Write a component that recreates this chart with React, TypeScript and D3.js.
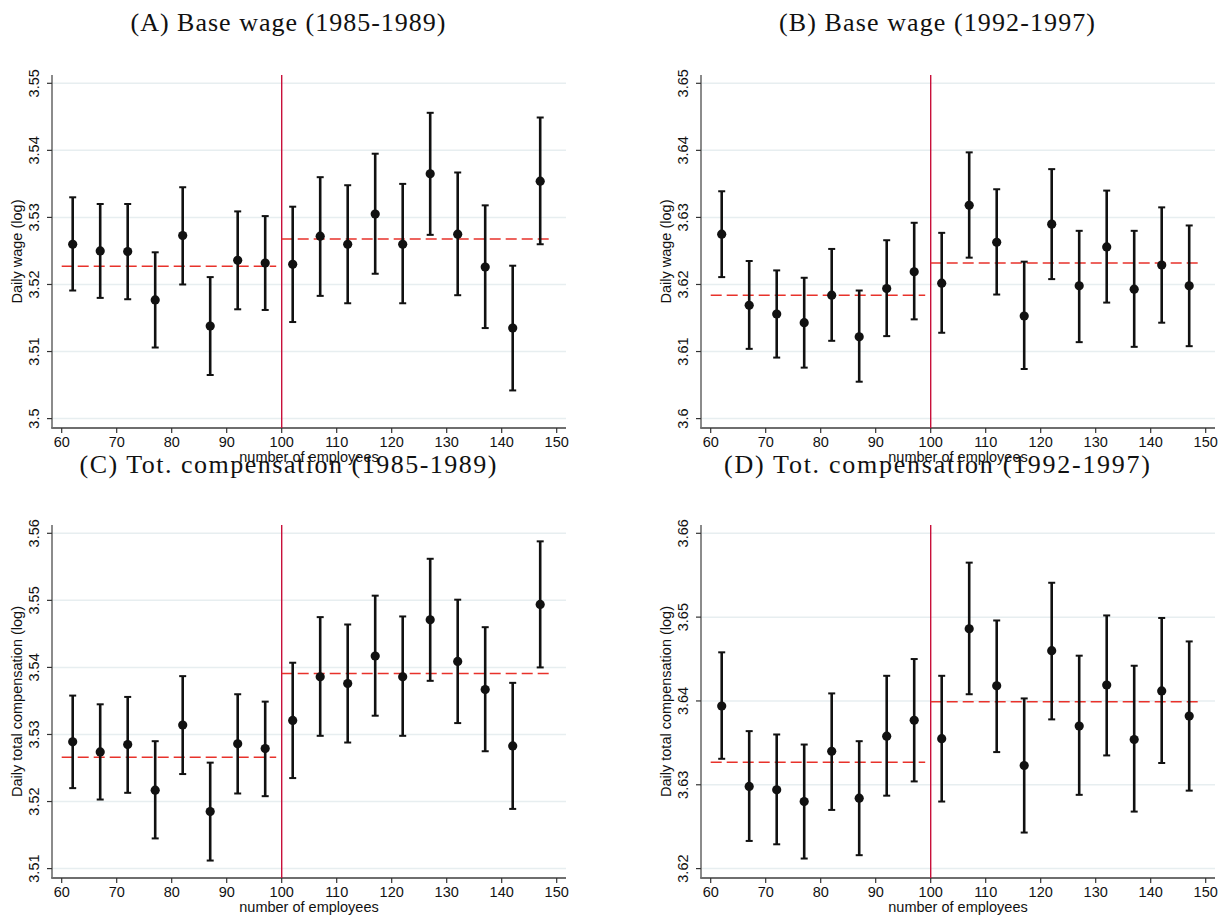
import React from "react";
import * as d3 from "d3";

// ---------- data ----------
const bins = [62, 67, 72, 77, 82, 87, 92, 97, 102, 107, 112, 117, 122, 127, 132, 137, 142, 147];
const xTicks = [60, 70, 80, 90, 100, 110, 120, 130, 140, 150];
const cutoff = 100;
const fitLeftRange = [60, 99];
const fitRightRange = [100, 149];

// Panel A: Base wage (1985-1989)
const meanA = [3.5260, 3.5250, 3.5249, 3.5177, 3.5273, 3.5138, 3.5236, 3.5232, 3.5230, 3.5272, 3.5260, 3.5305, 3.5260, 3.5365, 3.5275, 3.5226, 3.5135, 3.5354];
const hiA = [3.5330, 3.5320, 3.5320, 3.5248, 3.5345, 3.5211, 3.5309, 3.5302, 3.5316, 3.5360, 3.5348, 3.5395, 3.5350, 3.5456, 3.5367, 3.5318, 3.5228, 3.5449];
const loA = [3.5191, 3.5180, 3.5178, 3.5106, 3.5200, 3.5065, 3.5163, 3.5162, 3.5144, 3.5183, 3.5172, 3.5216, 3.5172, 3.5274, 3.5184, 3.5135, 3.5042, 3.5260];
const fitA = [3.5227, 3.5268];
const yTicksA = [3.5, 3.51, 3.52, 3.53, 3.54, 3.55];

// Panel B: Base wage (1992-1997)
const meanB = [3.6275, 3.6169, 3.6156, 3.6143, 3.6184, 3.6122, 3.6194, 3.6219, 3.6202, 3.6318, 3.6263, 3.6153, 3.6290, 3.6198, 3.6256, 3.6193, 3.6229, 3.6198];
const hiB = [3.6339, 3.6235, 3.6221, 3.6210, 3.6253, 3.6191, 3.6266, 3.6292, 3.6277, 3.6397, 3.6342, 3.6234, 3.6372, 3.6280, 3.6340, 3.6280, 3.6315, 3.6288];
const loB = [3.6211, 3.6104, 3.6091, 3.6076, 3.6116, 3.6055, 3.6123, 3.6148, 3.6128, 3.6240, 3.6185, 3.6074, 3.6208, 3.6114, 3.6173, 3.6107, 3.6143, 3.6108];
const fitB = [3.6184, 3.6232];
const yTicksB = [3.6, 3.61, 3.62, 3.63, 3.64, 3.65];

// Panel C: Tot. compensation (1985-1989)
const meanC = [3.5289, 3.5274, 3.5285, 3.5217, 3.5314, 3.5185, 3.5286, 3.5279, 3.5321, 3.5386, 3.5376, 3.5417, 3.5386, 3.5471, 3.5409, 3.5367, 3.5283, 3.5494];
const hiC = [3.5358, 3.5345, 3.5356, 3.5290, 3.5387, 3.5258, 3.5360, 3.5349, 3.5407, 3.5475, 3.5464, 3.5507, 3.5476, 3.5562, 3.5501, 3.5460, 3.5377, 3.5588];
const loC = [3.5220, 3.5203, 3.5213, 3.5145, 3.5241, 3.5112, 3.5212, 3.5208, 3.5235, 3.5298, 3.5288, 3.5328, 3.5298, 3.5380, 3.5317, 3.5275, 3.5189, 3.5400];
const fitC = [3.5266, 3.5391];
const yTicksC = [3.51, 3.52, 3.53, 3.54, 3.55, 3.56];

// Panel D: Tot. compensation (1992-1997)
const meanD = [3.6394, 3.6298, 3.6294, 3.6280, 3.6340, 3.6284, 3.6358, 3.6377, 3.6355, 3.6486, 3.6418, 3.6323, 3.6460, 3.6370, 3.6419, 3.6354, 3.6412, 3.6382];
const hiD = [3.6458, 3.6364, 3.6360, 3.6348, 3.6409, 3.6352, 3.6430, 3.6450, 3.6430, 3.6565, 3.6496, 3.6403, 3.6541, 3.6454, 3.6502, 3.6442, 3.6499, 3.6471];
const loD = [3.6331, 3.6233, 3.6229, 3.6212, 3.6270, 3.6216, 3.6287, 3.6304, 3.6280, 3.6408, 3.6339, 3.6243, 3.6378, 3.6288, 3.6335, 3.6268, 3.6326, 3.6293];
const fitD = [3.6327, 3.6399];
const yTicksD = [3.62, 3.63, 3.64, 3.65, 3.66];

const titles = [
  "(A) Base wage (1985-1989)",
  "(B) Base wage (1992-1997)",
  "(C) Tot. compensation (1985-1989)",
  "(D) Tot. compensation (1992-1997)",
];
const yLabels = ["Daily wage (log)", "Daily wage (log)", "Daily total compensation (log)", "Daily total compensation (log)"];
const xLabel = "number of employees";

// ---------- layout ----------
const W = 1220;
const H = 916;
const PLOT_W = 514;
const PLOT_H = 353;
const SANS = "'Liberation Sans', Arial, Helvetica, sans-serif";
const SERIF = "'Liberation Serif', 'Times New Roman', serif";

type PanelProps = {
  left: number;
  top: number;
  title: string;
  titleLen: number;
  titleOffset: number;
  yLabel: string;
  mean: number[];
  lo: number[];
  hi: number[];
  fit: number[];
  yTicks: number[];
};

function Panel({ left, top, title, titleLen, titleOffset, yLabel, mean, lo, hi, fit, yTicks }: PanelProps) {
  const right = left + PLOT_W;
  const bottom = top + PLOT_H;
  const x = d3.scaleLinear().domain([60, 150]).range([left + 9.7, left + 504.7]);
  const yMin = d3.min(yTicks) as number;
  const yMax = d3.max(yTicks) as number;
  const y = d3.scaleLinear().domain([yMin, yMax]).range([bottom - 9.4, top + 8.3]);
  const fmt = (v: number) => String(+v.toFixed(2));
  const line = d3.line<[number, number]>().x((d) => x(d[0])).y((d) => y(d[1]));
  const leftFit: [number, number][] = fitLeftRange.map((v) => [v, fit[0]]);
  const rightFit: [number, number][] = fitRightRange.map((v) => [v, fit[1]]);
  const red = "#e8322b";

  return (
    <g>
      {/* gridlines */}
      {yTicks.map((t) => (
        <line key={"g" + t} x1={left} x2={right} y1={y(t)} y2={y(t)} stroke="#e7eef0" strokeWidth={1.5} />
      ))}
      {/* axes */}
      <line x1={left} x2={left} y1={top} y2={bottom} stroke="#6e6e6e" strokeWidth={1.6} />
      <line x1={left - 0.8} x2={right} y1={bottom} y2={bottom} stroke="#6e6e6e" strokeWidth={2} />
      {yTicks.map((t) => (
        <g key={"yt" + t}>
          <line x1={left - 5} x2={left} y1={y(t)} y2={y(t)} stroke="#333" strokeWidth={1.2} />
          <text
            transform={`translate(${left - 13.5},${y(t)}) rotate(-90)`}
            textAnchor="middle"
            fontFamily={SANS}
            fontSize={14.5}
            fill="#111"
          >
            {fmt(t)}
          </text>
        </g>
      ))}
      {xTicks.map((t) => (
        <g key={"xt" + t}>
          <line x1={x(t)} x2={x(t)} y1={bottom} y2={bottom + 5} stroke="#333" strokeWidth={1.2} />
          <text x={x(t)} y={bottom + 19} textAnchor="middle" fontFamily={SANS} fontSize={14.5} fill="#111">
            {t}
          </text>
        </g>
      ))}
      <text x={(left + right) / 2} y={bottom + 33.5} textAnchor="middle" fontFamily={SANS} fontSize={14.5} fill="#111">
        {xLabel}
      </text>
      <text
        transform={`translate(${left - 30.5},${(top + bottom) / 2}) rotate(-90)`}
        textAnchor="middle"
        fontFamily={SANS}
        fontSize={14.5}
        fill="#111"
      >
        {yLabel}
      </text>
      {/* cutoff line */}
      <line x1={x(cutoff)} x2={x(cutoff)} y1={top} y2={bottom} stroke="#c8103a" strokeWidth={1.4} />
      {/* fitted lines */}
      <path d={line(leftFit) || ""} fill="none" stroke={red} strokeWidth={1.5} strokeDasharray="11,5" />
      <path d={line(rightFit) || ""} fill="none" stroke={red} strokeWidth={1.5} strokeDasharray="11,5" />
      {/* error bars */}
      {bins.map((b, i) => (
        <g key={"e" + b}>
          <line x1={x(b)} x2={x(b)} y1={y(lo[i])} y2={y(hi[i])} stroke="#111" strokeWidth={2.6} />
          <line x1={x(b) - 3.5} x2={x(b) + 3.5} y1={y(lo[i])} y2={y(lo[i])} stroke="#111" strokeWidth={2} />
          <line x1={x(b) - 3.5} x2={x(b) + 3.5} y1={y(hi[i])} y2={y(hi[i])} stroke="#111" strokeWidth={2} />
          <circle cx={x(b)} cy={y(mean[i])} r={4.6} fill="#111" />
        </g>
      ))}
      {/* title */}
      <text
        x={left + 236}
        y={top - titleOffset}
        textAnchor="middle"
        fontFamily={SERIF}
        fontSize={26}
        textLength={titleLen}
        lengthAdjust="spacing"
        fill="#111"
      >
        {title}
      </text>
    </g>
  );
}

export default function App() {
  return (
    <svg
      width={W}
      height={H}
      viewBox={`0 0 ${W} ${H}`}
      style={{ position: "absolute", left: 0, top: 0, background: "#fff", display: "block" }}
    >
      <rect x={0} y={0} width={W} height={H} fill="#fff" />
      <Panel left={52} top={75} title={titles[0]} titleLen={315} titleOffset={44} yLabel={yLabels[0]} mean={meanA} lo={loA} hi={hiA} fit={fitA} yTicks={yTicksA} />
      <Panel left={701} top={75} title={titles[1]} titleLen={316} titleOffset={44} yLabel={yLabels[1]} mean={meanB} lo={loB} hi={hiB} fit={fitB} yTicks={yTicksB} />
      <Panel left={52} top={525} title={titles[2]} titleLen={417} titleOffset={52} yLabel={yLabels[2]} mean={meanC} lo={loC} hi={hiC} fit={fitC} yTicks={yTicksC} />
      <Panel left={701} top={525} title={titles[3]} titleLen={426} titleOffset={52} yLabel={yLabels[3]} mean={meanD} lo={loD} hi={hiD} fit={fitD} yTicks={yTicksD} />
    </svg>
  );
}
